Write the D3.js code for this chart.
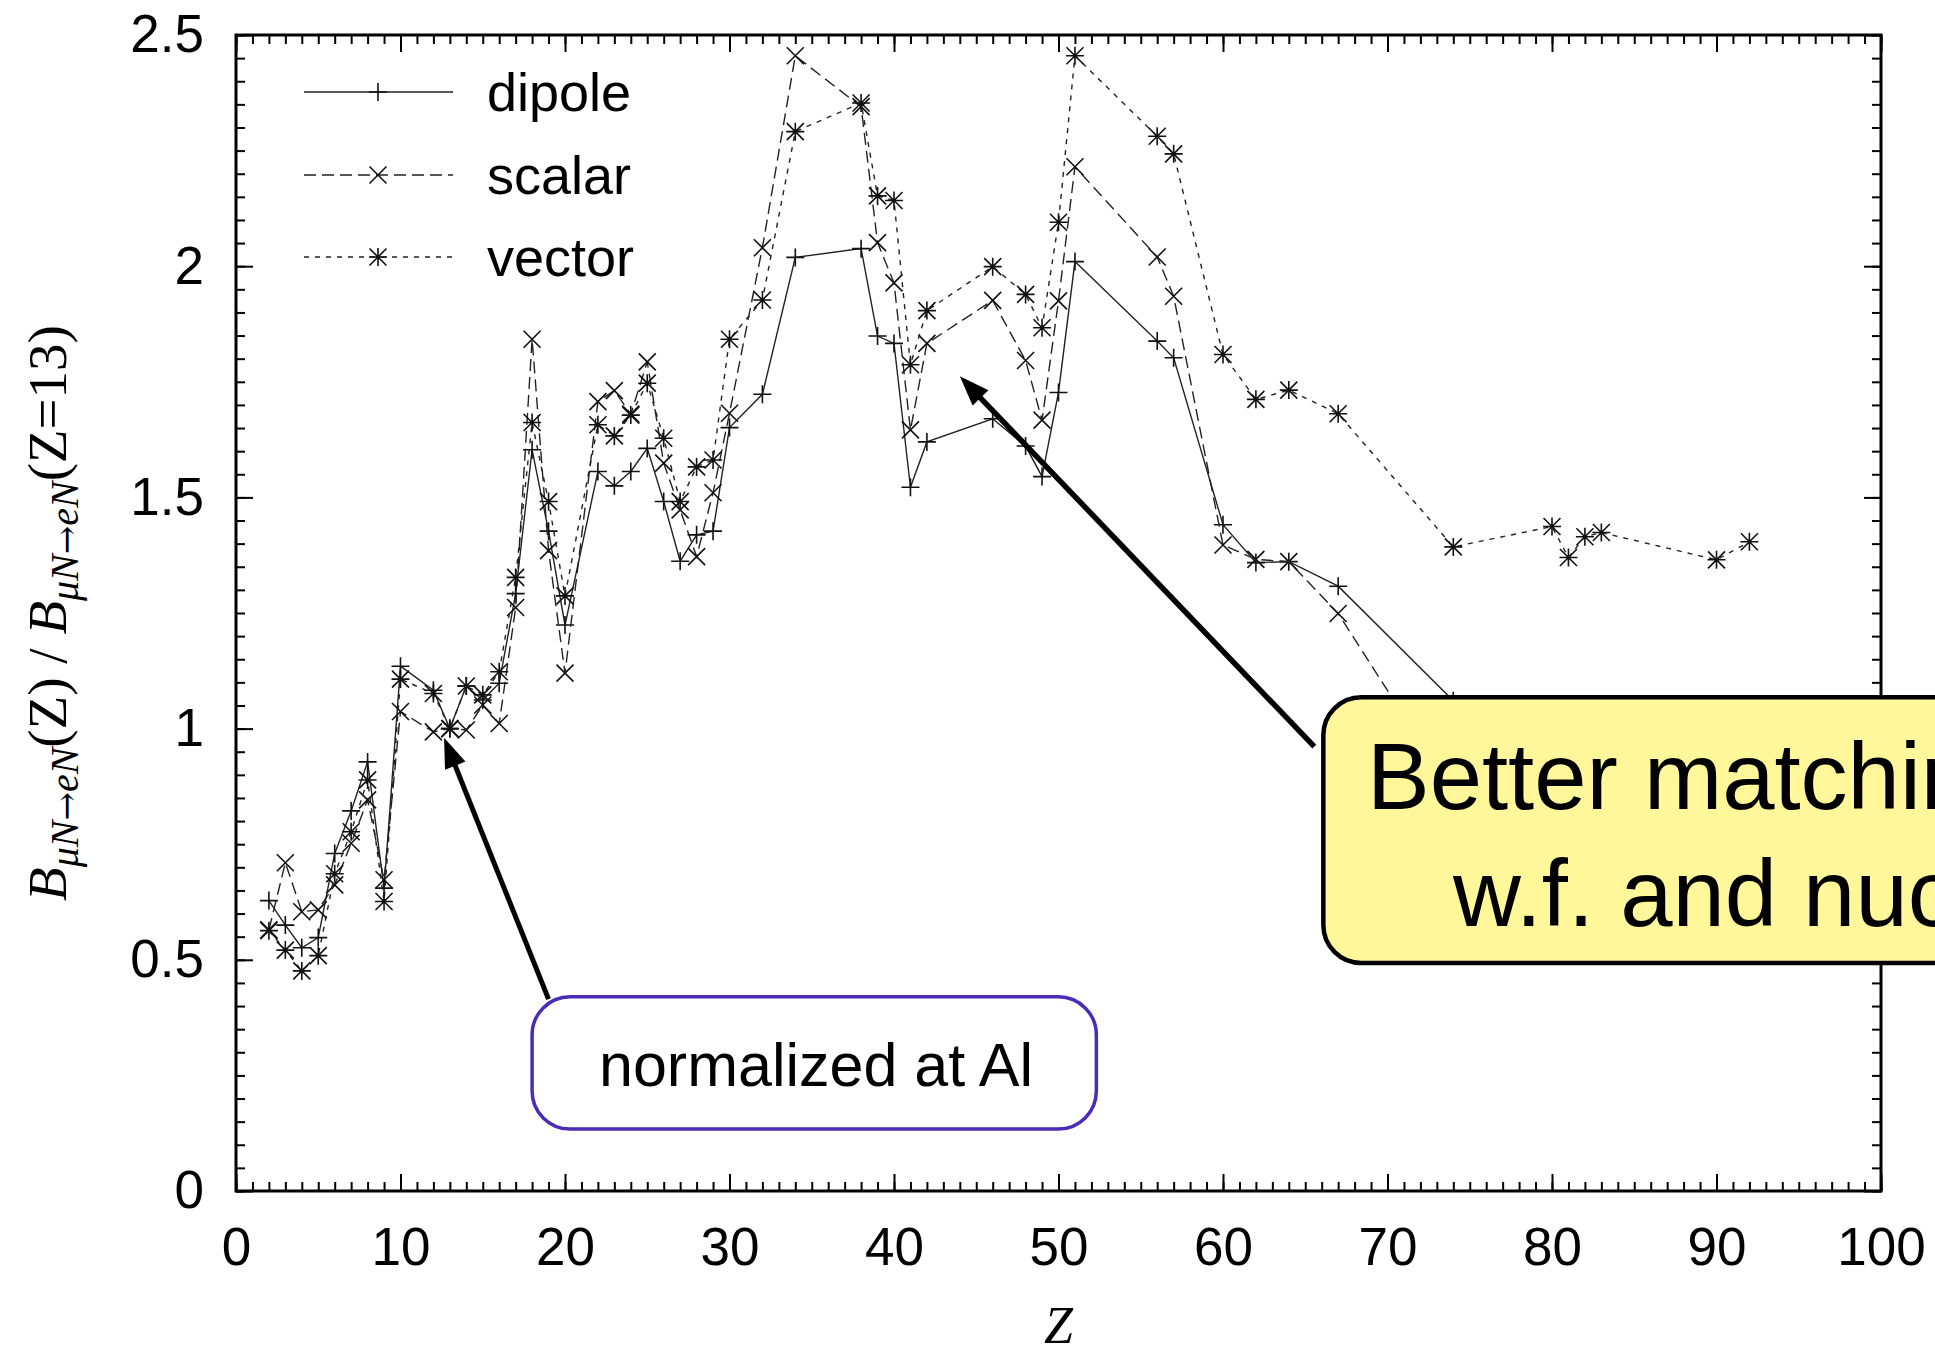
<!DOCTYPE html>
<html>
<head>
<meta charset="utf-8">
<script src="https://cdn.jsdelivr.net/npm/d3@7"></script>
<style>
html, body { margin: 0; padding: 0; overflow: hidden; background: #fff; }
text { font-family: "Liberation Sans", Arial, Helvetica, sans-serif; fill: #000; }
.serif { font-family: "Liberation Serif", "Times New Roman", serif; }
.arrow { font-family: "DejaVu Serif", serif; font-style: normal; }
</style>
</head>
<body>
<svg id="chart"></svg>
<script>
var width = 1935;
var height = 1348;

// atomic number of each target nucleus
var zValues = [2, 3, 4, 5, 6, 7, 8, 9, 10, 12, 13, 14, 15, 16, 17, 18, 19, 20,
  22, 23, 24, 25, 26, 27, 28, 29, 30, 32, 34, 38, 39, 40, 41, 42, 46, 48, 49, 50,
  51, 56, 57, 60, 62, 64, 67, 74, 80, 81, 82, 83, 90, 92];
var dipole = [0.628, 0.575, 0.526, 0.548, 0.730, 0.822, 0.928, 0.655, 1.135, 1.083, 1.000, 1.092, 1.062, 1.098, 1.292, 1.603, 1.427, 1.224,
  1.556, 1.525, 1.556, 1.606, 1.491, 1.362, 1.419, 1.427, 1.651, 1.723, 2.019, 2.038, 1.849, 1.833, 1.522, 1.620, 1.670, 1.611, 1.545, 1.727,
  2.010, 1.838, 1.802, 1.441, 1.359, 1.361, 1.308, 1.060, 1.050, 0.960, 0.980, 0.980, 0.950, 0.970];
var scalar = [0.565, 0.710, 0.604, 0.608, 0.662, 0.752, 0.846, 0.673, 1.037, 0.993, 1.000, 0.997, 1.051, 1.011, 1.262, 1.842, 1.385, 1.120,
  1.707, 1.731, 1.680, 1.793, 1.574, 1.473, 1.372, 1.510, 1.682, 2.040, 2.455, 2.345, 2.051, 1.964, 1.646, 1.833, 1.926, 1.796, 1.667, 1.925,
  2.215, 2.020, 1.935, 1.397, 1.366, 1.361, 1.249, 0.860, 0.850, 0.820, 0.840, 0.850, 0.800, 0.830];
var vector = [0.563, 0.521, 0.476, 0.509, 0.686, 0.777, 0.889, 0.626, 1.107, 1.076, 1.000, 1.092, 1.073, 1.123, 1.327, 1.662, 1.491, 1.287,
  1.657, 1.633, 1.678, 1.747, 1.628, 1.491, 1.566, 1.581, 1.842, 1.927, 2.291, 2.353, 2.152, 2.142, 1.787, 1.904, 1.999, 1.939, 1.867, 2.095,
  2.455, 2.281, 2.243, 1.809, 1.712, 1.732, 1.681, 1.393, 1.437, 1.370, 1.415, 1.424, 1.365, 1.404];

var xTicks = [0, 10, 20, 30, 40, 50, 60, 70, 80, 90, 100];
var yTicks = [0, 0.5, 1, 1.5, 2, 2.5];
var yTickLabels = ['0', '0.5', '1', '1.5', '2', '2.5'];

var seriesList = [
  {name: 'dipole', values: dipole, dash: null, marker: 'plus'},
  {name: 'scalar', values: scalar, dash: '12,6', marker: 'cross'},
  {name: 'vector', values: vector, dash: '5,6', marker: 'star'}
];

var plot = {left: 236, right: 1881, top: 35, bottom: 1191};

var svg = d3.select('#chart').attr('width', width).attr('height', height);

var x = d3.scaleLinear().domain([0, 100]).range([plot.left, plot.right]);
var y = d3.scaleLinear().domain([0, 2.5]).range([plot.bottom, plot.top]);

var minorX = d3.range(0, 101);
var minorY = d3.range(0, 51).map(function(i) { return i * 0.05; });

var majorLen = 17;
var minorLen = 9;

var drawAxis = function(axis, transform, withText) {
  var g = svg.append('g').attr('transform', transform).call(axis);
  g.select('.domain').remove();
  g.selectAll('.tick line').attr('stroke', '#000').attr('stroke-width', 2);
  if (withText) {
    g.selectAll('.tick text').attr('font-size', 53).attr('fill', '#000');
  } else {
    g.selectAll('.tick text').remove();
  }
  return g;
};

// minor ticks on all four sides
drawAxis(d3.axisBottom(x).tickValues(minorX).tickSize(-minorLen), 'translate(0,' + plot.bottom + ')', false);
drawAxis(d3.axisTop(x).tickValues(minorX).tickSize(-minorLen), 'translate(0,' + plot.top + ')', false);
drawAxis(d3.axisLeft(y).tickValues(minorY).tickSize(-minorLen), 'translate(' + plot.left + ',0)', false);
drawAxis(d3.axisRight(y).tickValues(minorY).tickSize(-minorLen), 'translate(' + plot.right + ',0)', false);

// major ticks
drawAxis(d3.axisBottom(x).tickValues(xTicks).tickSize(-majorLen).tickPadding(36).tickFormat(function(d) { return String(d); }),
  'translate(0,' + plot.bottom + ')', true);
drawAxis(d3.axisTop(x).tickValues(xTicks).tickSize(-majorLen), 'translate(0,' + plot.top + ')', false);
drawAxis(d3.axisLeft(y).tickValues(yTicks).tickSize(-majorLen).tickPadding(32).tickFormat(function(d, i) { return yTickLabels[i]; }),
  'translate(' + plot.left + ',0)', true);
drawAxis(d3.axisRight(y).tickValues(yTicks).tickSize(-majorLen), 'translate(' + plot.right + ',0)', false);

svg.append('rect')
  .attr('x', plot.left).attr('y', plot.top)
  .attr('width', plot.right - plot.left).attr('height', plot.bottom - plot.top)
  .attr('fill', 'none').attr('stroke', '#000').attr('stroke-width', 3);

// point symbols like gnuplot pt 1, 2, 3
var markerSize = 8.5;
var plusPath = function(px, py, r) {
  return 'M' + (px - r) + ',' + py + 'H' + (px + r) + 'M' + px + ',' + (py - r) + 'V' + (py + r);
};
var crossPath = function(px, py, r) {
  return 'M' + (px - r) + ',' + (py - r) + 'L' + (px + r) + ',' + (py + r) +
    'M' + (px - r) + ',' + (py + r) + 'L' + (px + r) + ',' + (py - r);
};
var markerPath = function(type, px, py) {
  if (type === 'plus') return plusPath(px, py, markerSize + 0.5);
  if (type === 'cross') return crossPath(px, py, markerSize);
  return plusPath(px, py, markerSize + 0.5) + crossPath(px, py, markerSize);
};

var line = d3.line()
  .x(function(d) { return x(d.z); })
  .y(function(d) { return y(d.v); });

var dataLayer = svg.append('g');
seriesList.forEach(function(s) {
  var pts = zValues.map(function(z, i) { return {z: z, v: s.values[i]}; });
  dataLayer.append('path')
    .datum(pts)
    .attr('d', line)
    .attr('fill', 'none')
    .attr('stroke', '#222')
    .attr('stroke-width', 1.4)
    .attr('stroke-dasharray', s.dash);
  dataLayer.selectAll('.pt-' + s.name).data(pts).enter()
    .append('path')
    .classed('pt-' + s.name, true)
    .attr('d', function(d) { return markerPath(s.marker, x(d.z), y(d.v)); })
    .attr('fill', 'none')
    .attr('stroke', '#111')
    .attr('stroke-width', 1.6);
});

// legend
var legend = svg.append('g');
var legendRows = [92, 175, 257];
seriesList.forEach(function(s, i) {
  var ly = legendRows[i];
  legend.append('line')
    .attr('x1', 304).attr('x2', 453).attr('y1', ly).attr('y2', ly)
    .attr('stroke', '#222').attr('stroke-width', 1.4)
    .attr('stroke-dasharray', s.dash);
  legend.append('path')
    .attr('d', markerPath(s.marker, 378, ly))
    .attr('fill', 'none').attr('stroke', '#111').attr('stroke-width', 1.6);
  legend.append('text')
    .attr('x', 487).attr('y', ly + 19)
    .attr('font-size', 54)
    .text(s.name);
});

// axis titles
svg.append('text')
  .classed('serif', true)
  .attr('x', x(50)).attr('y', 1343)
  .attr('text-anchor', 'middle')
  .attr('font-size', 52)
  .attr('font-style', 'italic')
  .text('Z');

var yTitle = svg.append('text')
  .classed('serif', true)
  .attr('transform', 'translate(66,' + ((plot.top + plot.bottom) / 2) + ') rotate(-90)')
  .attr('text-anchor', 'middle')
  .attr('font-size', 55);
var addB = function() {
  yTitle.append('tspan').attr('font-style', 'italic').text('B');
  yTitle.append('tspan').attr('font-style', 'italic').attr('font-size', 40).attr('dy', '0.3em').text('\u03bcN');
  yTitle.append('tspan').classed('arrow', true).attr('font-size', 34).attr('fill', '#000').text('\u2192');
  yTitle.append('tspan').attr('font-style', 'italic').attr('font-size', 40).text('eN');
};
addB();
yTitle.append('tspan').attr('dy', '-0.22em').text('(Z) / ');
addB();
yTitle.append('tspan').attr('dy', '-0.22em').text('(Z=13)');

// annotations, placed in data units
var arrowHead = function(g, x1, y1, x2, y2, lw) {
  var ang = Math.atan2(y2 - y1, x2 - x1);
  var len = 30, half = 11;
  var bx = x2 - len * Math.cos(ang), by = y2 - len * Math.sin(ang);
  g.append('line')
    .attr('x1', x1).attr('y1', y1).attr('x2', bx + 4 * Math.cos(ang)).attr('y2', by + 4 * Math.sin(ang))
    .attr('stroke', '#000').attr('stroke-width', lw);
  g.append('path')
    .attr('d', 'M' + x2 + ',' + y2 +
      'L' + (bx + half * Math.sin(ang)) + ',' + (by - half * Math.cos(ang)) +
      'L' + (bx - half * Math.sin(ang)) + ',' + (by + half * Math.cos(ang)) + 'Z')
    .attr('fill', '#000');
};

var notes = svg.append('g');

// "normalized at Al"
arrowHead(notes, x(19.0), y(0.415), x(12.65), y(0.98), 5);
notes.append('rect')
  .attr('x', x(18.0)).attr('y', y(0.42))
  .attr('width', x(52.3) - x(18.0)).attr('height', y(0.134) - y(0.42))
  .attr('rx', 38).attr('ry', 38)
  .attr('fill', '#fff').attr('stroke', '#4b2bb8').attr('stroke-width', 3.5);
notes.append('text')
  .attr('x', x(35.26)).attr('y', 1086)
  .attr('text-anchor', 'middle')
  .attr('font-size', 61)
  .text('normalized at Al');

// "Better matching ..." (runs past the right edge, as in the original slide)
arrowHead(notes, x(65.55), y(0.961), x(44.0), y(1.762), 5.5);
notes.append('rect')
  .attr('x', x(66.1)).attr('y', y(1.068))
  .attr('width', x(125) - x(66.1)).attr('height', y(0.493) - y(1.068))
  .attr('rx', 38).attr('ry', 38)
  .attr('fill', '#fff799').attr('stroke', '#000').attr('stroke-width', 4.5);
notes.append('text')
  .attr('x', 1367).attr('y', 809)
  .attr('font-size', 94)
  .text('Better matching of');
notes.append('text')
  .attr('x', 1453).attr('y', 926)
  .attr('font-size', 94)
  .text('w.f. and nucleus');
</script>
</body>
</html>
